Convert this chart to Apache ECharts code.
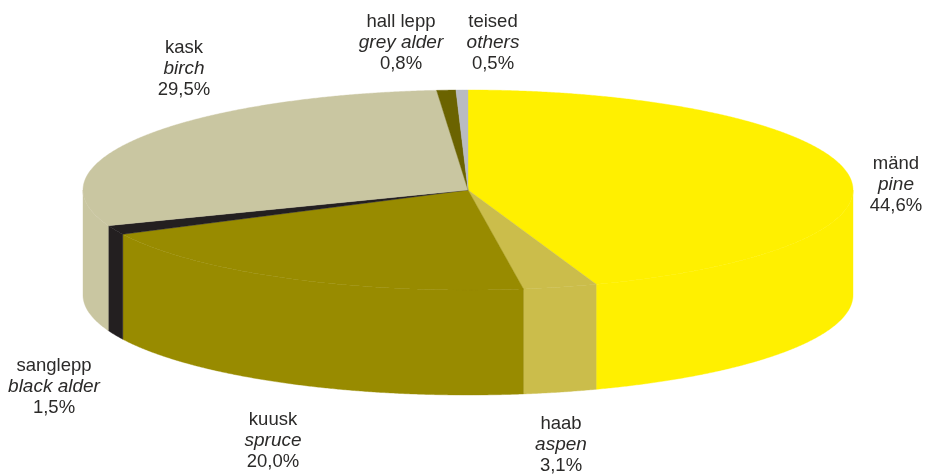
<!DOCTYPE html>
<html>
<head>
<meta charset="utf-8">
<style>
  html, body { margin: 0; padding: 0; background: #fff; }
  #chart { width: 926px; height: 474px; }
</style>
<script src="https://cdn.jsdelivr.net/npm/echarts@6/dist/echarts.min.js"></script>
</head>
<body>
<div id="chart"></div>
<script>
// data, clockwise from 12 o'clock
var namesEt = ['mänd', 'haab', 'kuusk', 'sanglepp', 'kask', 'hall lepp', 'teised'];
var namesEn = ['pine', 'aspen', 'spruce', 'black alder', 'birch', 'grey alder', 'others'];
var shares = [44.6, 3.1, 20.0, 1.5, 29.5, 0.8, 0.5];

var colors = ['#FFF000', '#CBBD4B', '#988B00', '#231F20', '#C9C6A1', '#6B6300', '#B9BBC0'];
// label centres in px, same order as the data
var labelX = [896, 561, 273, 54, 184, 401, 493];
var labelY = [184, 444, 440, 386, 68, 42, 42];

// disc geometry
var cx = 468, cy = 190, rx = 385, ry = 100, depth = 105;

var chart = echarts.init(document.getElementById('chart'), null, { renderer: 'canvas' });

var total = shares.reduce(function (a, b) { return a + b; }, 0);
var starts = [];
shares.reduce(function (sum, v, i) {
  starts[i] = sum;
  return sum + v;
}, 0);

function angle(v) {
  return v / total * Math.PI * 2;
}

function rimPoint(a, dy) {
  return [cx + rx * Math.sin(a), cy - ry * Math.cos(a) + dy];
}

function arcPoints(a0, a1, dy) {
  var n = Math.max(2, Math.ceil((a1 - a0) / 0.005));
  var pts = [];
  for (var i = 0; i <= n; i++) {
    pts.push(rimPoint(a0 + (a1 - a0) * i / n, dy));
  }
  return pts;
}

function renderSlice(params, api) {
  var i = params.dataIndex;
  var a0 = angle(starts[i]);
  var a1 = a0 + angle(api.value(0));
  var children = [];

  // the side wall only shows on the front half of the disc
  var w0 = Math.max(a0, Math.PI / 2);
  var w1 = Math.min(a1, Math.PI * 1.5);
  if (w1 > w0) {
    var wall = arcPoints(w0, w1, 0).concat(arcPoints(w0, w1, depth).reverse());
    children.push({
      type: 'polygon',
      shape: { points: wall },
      style: { fill: colors[i], stroke: colors[i], lineWidth: 0.4 }
    });
  }

  children.push({
    type: 'polygon',
    shape: { points: [[cx, cy]].concat(arcPoints(a0, a1, 0)) },
    style: { fill: colors[i], stroke: colors[i], lineWidth: 0.4 }
  });

  children.push({
    type: 'text',
    z2: 10,
    style: {
      x: labelX[i],
      y: labelY[i] + 1,
      align: 'center',
      verticalAlign: 'middle',
      text: '{a|' + namesEt[i] + '}\n{b|' + namesEn[i] + '}\n{a|' +
        api.value(0).toFixed(1).replace('.', ',') + '%}',
      rich: {
        a: { fontFamily: 'Liberation Sans', fontSize: 18.5, lineHeight: 21, fill: '#2B2A29', align: 'center' },
        b: { fontFamily: 'Liberation Sans', fontSize: 19, fontStyle: 'italic', lineHeight: 21, fill: '#2B2A29', align: 'center' }
      }
    }
  });

  return { type: 'group', children: children };
}

var option = {
  backgroundColor: '#fff',
  animation: false,
  tooltip: { show: false },
  series: [{
    type: 'custom',
    coordinateSystem: 'none',
    silent: true,
    data: shares.map(function (v, i) {
      return { name: namesEt[i], value: [v] };
    }),
    renderItem: renderSlice
  }]
};

chart.setOption(option);
</script>
</body>
</html>
